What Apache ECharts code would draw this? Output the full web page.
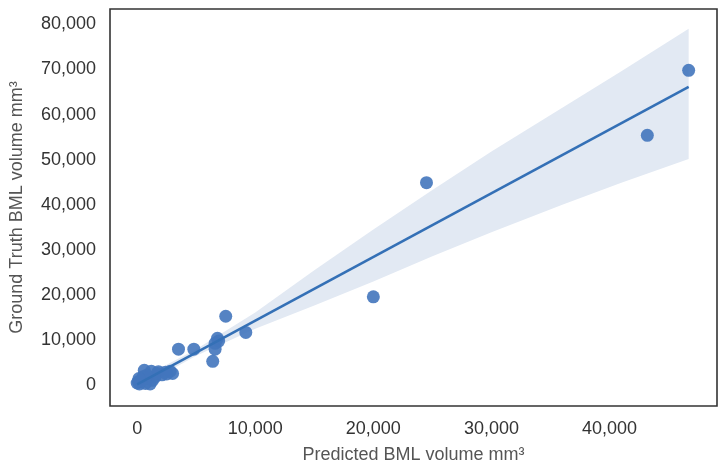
<!DOCTYPE html>
<html>
<head>
<meta charset="utf-8">
<script src="https://cdn.jsdelivr.net/npm/echarts@6/dist/echarts.min.js"></script>
<style>
  html, body { margin: 0; padding: 0; background: #fff; }
  #chart { width: 726px; height: 469px; }
</style>
</head>
<body>
<div id="chart"></div>
<script>
// predicted vs ground truth BML volume (mm3)
const predicted = [
  46700, 43200, 24500, 20000, 9200, 7500, 6800, 6900, 6600, 6600, 6400, 4800, 3500,
  600, 1200, 1800, 2400, 2800, 3000, 2100, 1500, 900, 400, 100, 0, 200, 700, 1100,
  1300, 500, 1700, 2500, 300, 800, 150
];
const groundTruth = [
  69800, 55400, 44900, 19600, 11700, 15300, 10400, 9800, 9300, 8000, 5300, 8000, 8000,
  3300, 3100, 3000, 2900, 3100, 2600, 2300, 1800, 1500, 1200, 800, 500, 300, 400, 300,
  1100, 1900, 2600, 2500, 900, 2200, 1500
];

// regression fit and confidence band
const fitX = [0, 46700];
const fitY = [200, 66150];
const bandX = [0, 5000, 10000, 15000, 20000, 25000, 30000, 36000, 41000, 46700];
const bandLow = [-700, 6560, 12520, 17700, 23000, 28600, 33900, 40030, 44890, 50150];
const bandHigh = [1100, 7960, 16120, 25500, 34500, 43300, 51800, 61500, 69600, 79000];

const xTicks = { min: -2300, max: 49100 };
const yTicks = { min: -4600, max: 83400 };

const tickFmt = function (v) {
  if (v % 10000 !== 0) return "";
  return v.toLocaleString("en-US");
};

const myChart = echarts.init(document.getElementById("chart"));

const option = {
  backgroundColor: "#fff",
  animation: false,
  grid: {
    show: true,
    left: 107,
    right: 9,
    top: 9,
    bottom: 61,
    borderColor: "#333",
    borderWidth: 1.6,
    backgroundColor: "transparent",
  },
  xAxis: {
    type: "value",
    min: xTicks.min,
    max: xTicks.max,
    splitNumber: 5,
    name: "Predicted BML volume mm\u00b3",
    nameLocation: "middle",
    nameGap: 40,
    nameTextStyle: { color: "#555", fontSize: 18, fontFamily: "Liberation Sans" },
    axisLine: { show: false },
    axisTick: { show: false },
    splitLine: { show: false },
    axisLabel: {
      color: "#333",
      fontSize: 18,
      fontFamily: "Liberation Sans",
      margin: 14,
      showMinLabel: false,
      showMaxLabel: false,
      formatter: tickFmt,
    },
  },
  yAxis: {
    type: "value",
    min: yTicks.min,
    max: yTicks.max,
    splitNumber: 8,
    name: "Ground Truth BML volume mm\u00b3",
    nameLocation: "middle",
    nameGap: 84,
    nameTextStyle: { color: "#555", fontSize: 18, fontFamily: "Liberation Sans" },
    axisLine: { show: false },
    axisTick: { show: false },
    splitLine: { show: false },
    axisLabel: {
      color: "#333",
      fontSize: 18,
      fontFamily: "Liberation Sans",
      margin: 14,
      showMinLabel: false,
      showMaxLabel: false,
      formatter: tickFmt,
    },
  },
  series: [
    {
      // confidence band
      type: "custom",
      silent: true,
      z: 1,
      data: [0],
      renderItem: function (params, api) {
        const pts = [];
        for (let i = 0; i < bandX.length; i++) pts.push(api.coord([bandX[i], bandHigh[i]]));
        for (let i = bandX.length - 1; i >= 0; i--) pts.push(api.coord([bandX[i], bandLow[i]]));
        return {
          type: "polygon",
          shape: { points: pts },
          style: { fill: "#e2e9f3" },
        };
      },
    },
    {
      type: "line",
      z: 3,
      symbol: "none",
      data: fitX.map((x, i) => [x, fitY[i]]),
      lineStyle: { color: "#3470b6", width: 2.6 },
    },
    {
      type: "scatter",
      z: 2,
      symbolSize: 13,
      data: predicted.map((x, i) => [x, groundTruth[i]]),
      itemStyle: { color: "#4275bd", opacity: 0.9 },
    },
  ],
};

myChart.setOption(option);
</script>
</body>
</html>
